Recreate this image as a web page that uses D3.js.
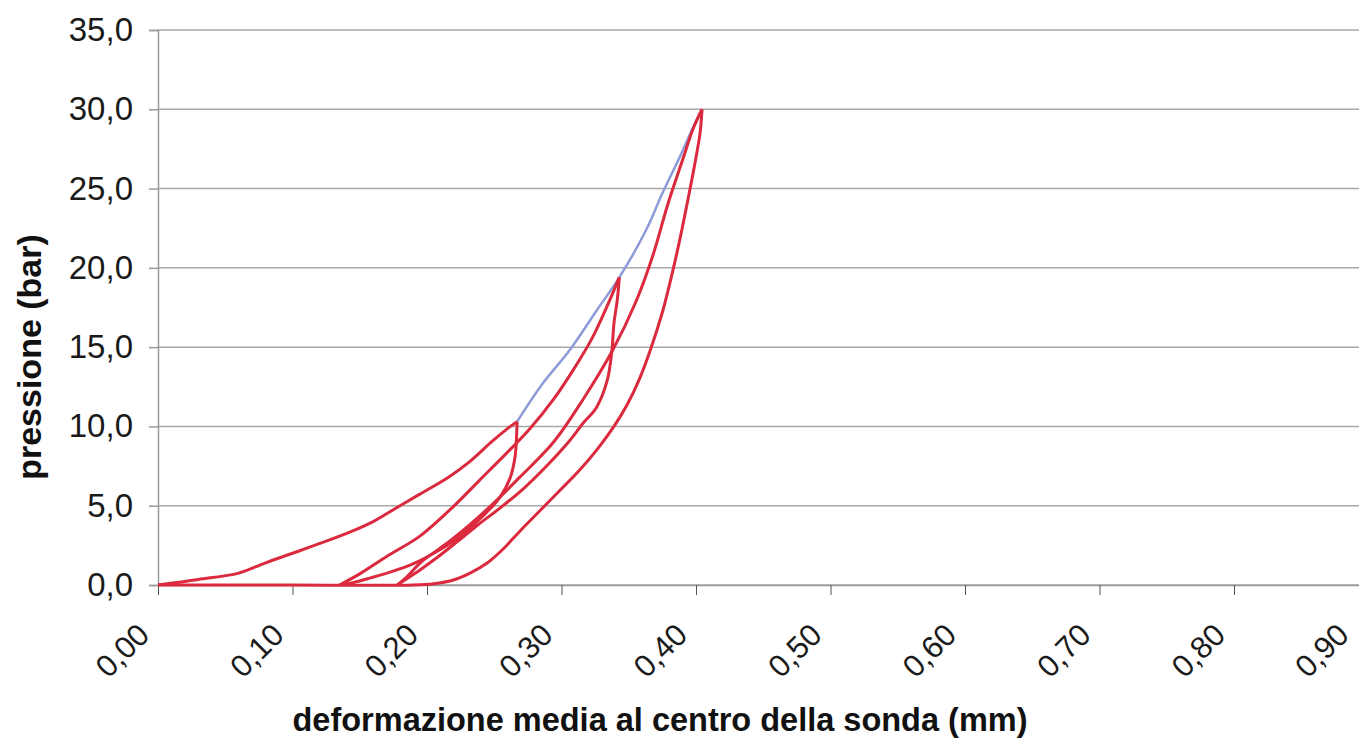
<!DOCTYPE html>
<html>
<head>
<meta charset="utf-8">
<script src="https://cdn.jsdelivr.net/npm/d3@7"></script>
<style>
  body { margin: 0; background: #fff; }
  svg { display: block; font-family: "Liberation Sans", Arial, sans-serif; }
</style>
</head>
<body>
<svg id="chart" width="1359" height="739"></svg>
<script>
// tick values
const xTicks = [0, 0.1, 0.2, 0.3, 0.4, 0.5, 0.6, 0.7, 0.8, 0.9];
const yTicks = [0, 5, 10, 15, 20, 25, 30, 35];

// [deformazione (mm), pressione (bar)]
const carico1 = [[0,0],[0.03,0.35],[0.06,0.75],[0.08,1.4],[0.1,2.0],[0.123,2.7],[0.143,3.35],[0.16,4.0],[0.178,4.9],[0.194,5.7],[0.216,6.8],[0.232,7.8],[0.249,9.1],[0.262,10.0],[0.267,10.3]];
const scarico1 = [[0.267,10.3],[0.2665,9.2],[0.2655,8.1],[0.262,6.8],[0.254,5.5],[0.248,4.9],[0.236,3.9],[0.222,2.9],[0.207,2.1],[0.19,1.35],[0.172,0.8],[0.158,0.45],[0.145,0.15],[0.135,0]];
const ricarico1 = [[0.135,0],[0.15,0.7],[0.17,1.8],[0.195,3.1],[0.219,4.9],[0.239,6.6],[0.259,8.3],[0.276,9.8],[0.294,11.7],[0.309,13.6],[0.323,15.6],[0.334,17.6],[0.343,19.4]];
const scarico2 = [[0.343,19.4],[0.3415,18.0],[0.339,16.5],[0.3375,14.8],[0.334,12.9],[0.326,11.2],[0.316,10.2],[0.306,9.1],[0.29,7.6],[0.272,6.1],[0.255,4.9],[0.238,3.8],[0.222,2.7],[0.207,1.7],[0.194,0.9],[0.185,0.4],[0.178,0]];
const ricarico2 = [[0.178,0],[0.186,0.6],[0.195,1.4],[0.219,2.9],[0.245,4.8],[0.269,6.8],[0.294,9.0],[0.316,11.7],[0.338,14.8],[0.355,17.8],[0.368,20.8],[0.379,24.0],[0.39,26.8],[0.398,28.8],[0.4045,30]];
const scarico3 = [[0.4045,30],[0.403,28.5],[0.399,26.5],[0.394,24.3],[0.389,22.2],[0.383,19.9],[0.375,17.2],[0.366,14.8],[0.358,13.0],[0.349,11.4],[0.339,10.0],[0.327,8.6],[0.313,7.2],[0.298,5.9],[0.283,4.6],[0.268,3.3],[0.257,2.3],[0.245,1.4],[0.232,0.75],[0.219,0.3],[0.205,0.08],[0.19,0],[0.1,0],[0,0]];
// curva vergine (blu)
const inviluppo = [[0.267,10.3],[0.286,12.7],[0.306,14.8],[0.326,17.3],[0.343,19.4],[0.363,22.4],[0.375,24.7],[0.388,27.0],[0.398,28.9],[0.4045,30]];

const svg = d3.select("#chart");
const W = 1359;

const x = d3.scaleLinear().domain([0, 0.9]).range([158, 1368.5]);
const y = d3.scaleLinear().domain([0, 35]).range([585, 30]);

const it = d3.formatLocale({ decimal: ",", thousands: ".", grouping: [3], currency: ["", "€"] });
const fx = it.format(".2f");
const fy = it.format(".1f");

// griglia orizzontale
svg.append("g")
  .selectAll("line")
  .data(yTicks)
  .join("line")
  .attr("x1", x(0))
  .attr("x2", W)
  .attr("y1", d => y(d))
  .attr("y2", d => y(d))
  .attr("stroke", "#a8a8a8")
  .attr("stroke-width", 1.5);

// asse y
const gy = svg.append("g")
  .attr("transform", `translate(${x(0)},0)`)
  .call(d3.axisLeft(y).tickValues(yTicks).tickFormat(fy).tickSize(9).tickPadding(16));
gy.select(".domain").attr("stroke", "#9a9a9a").attr("stroke-width", 1.5);
gy.selectAll(".tick line").attr("stroke", "#9a9a9a").attr("stroke-width", 1.5);
gy.selectAll("text").attr("font-size", 33).attr("fill", "#1a1a1a").attr("font-family", "Liberation Sans, Arial, sans-serif");

// asse x
const gx = svg.append("g")
  .attr("transform", `translate(0,${y(0)})`)
  .call(d3.axisBottom(x).tickValues(xTicks).tickFormat(fx).tickSize(10).tickSizeOuter(0));
gx.select(".domain").attr("stroke", "#9a9a9a").attr("stroke-width", 1.5);
gx.selectAll(".tick line").attr("stroke", "#555").attr("stroke-width", 1);
gx.selectAll("text")
  .attr("font-size", 31)
  .attr("fill", "#1a1a1a")
  .attr("font-family", "Liberation Sans, Arial, sans-serif")
  .attr("text-anchor", "end")
  .attr("x", 0)
  .attr("y", 0)
  .attr("dy", "0.35em")
  // l'ultima etichetta cade oltre il bordo: la sposto un po' a sinistra
  .attr("transform", d => `translate(${x(d) > W - 5 ? -26 : -15},44) rotate(-45)`);

// curve
const line = d3.line()
  .x(d => x(d[0]))
  .y(d => y(d[1]))
  .curve(d3.curveCatmullRom.alpha(0.5));

svg.append("path")
  .datum(inviluppo)
  .attr("d", line)
  .attr("fill", "none")
  .attr("stroke", "#8e9bd8")
  .attr("stroke-width", 2.5);

const rossi = [carico1, scarico1, ricarico1, scarico2, ricarico2, scarico3];
svg.append("g")
  .selectAll("path")
  .data(rossi)
  .join("path")
  .attr("d", line)
  .attr("fill", "none")
  .attr("stroke", "#db2a3e")
  .attr("stroke-width", 3)
  .attr("stroke-linejoin", "round");

// titoli assi
svg.append("text")
  .attr("x", 660)
  .attr("y", 731)
  .attr("text-anchor", "middle")
  .attr("font-size", 32.5)
  .attr("font-weight", "bold")
  .attr("fill", "#111")
  .text("deformazione media al centro della sonda (mm)");

svg.append("text")
  .attr("transform", "translate(41,357) rotate(-90)")
  .attr("text-anchor", "middle")
  .attr("font-size", 34)
  .attr("font-weight", "bold")
  .attr("fill", "#111")
  .text("pressione (bar)");
</script>
</body>
</html>
